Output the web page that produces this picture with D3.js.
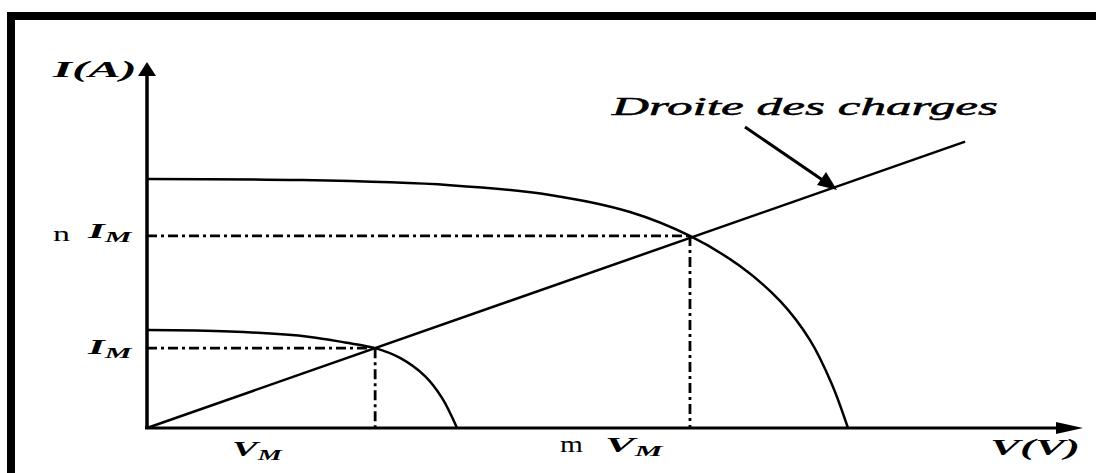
<!DOCTYPE html>
<html>
<head>
<meta charset="utf-8">
<script src="https://cdn.jsdelivr.net/npm/d3@7"></script>
<style>
  html, body { margin: 0; padding: 0; background: #fff; }
  svg { display: block; }
  .lbl { font-family: "Liberation Serif", "DejaVu Serif", serif; fill: #000; }
</style>
</head>
<body>
<svg id="chart" width="1096" height="473"></svg>
<script>
// Operating point of the small panel and the scaling factors
const vM = 2.44;          // V_M
const iM = 2.2;           // I_M
const mFactor = 2.38;     // m V_M
const nFactor = 2.405;    // n I_M

// I-V characteristic of a single panel (V, I)
const smallV = [0, 0.888, 1.743, 2.118, 2.44, 2.706, 2.973, 3.155, 3.316];
const smallI = [2.70, 2.66, 2.51, 2.355, 2.20, 1.93, 1.43, 0.83, 0];

// I-V characteristic of the full array (V, I)
const bigV = [0, 1.636, 3.241, 4.310, 5.166, 5.807, 6.342, 6.770, 7.091, 7.326, 7.497];
const bigI = [6.86, 6.83, 6.69, 6.42, 5.95, 5.29, 4.46, 3.50, 2.42, 1.20, 0];

// Load line end point
const loadEndV = 8.75;

const svg = d3.select("#chart");

const x = d3.scaleLinear().domain([0, 10]).range([147, 1082]);
const y = d3.scaleLinear().domain([0, 10]).range([428, 65]);

// Frame
svg.append("rect").attr("x", 7).attr("y", 12).attr("width", 1089).attr("height", 8).attr("fill", "#000");
svg.append("rect").attr("x", 7).attr("y", 12).attr("width", 8).attr("height", 461).attr("fill", "#000");

// Axes
svg.append("line").attr("x1", x(0)).attr("y1", y(0)).attr("x2", x(0)).attr("y2", 72)
  .attr("stroke", "#000").attr("stroke-width", 3.5);
svg.append("path")
  .attr("d", `M${x(0)},62 L${x(0) - 9},76 L${x(0) + 9},76 Z`).attr("fill", "#000");
svg.append("line").attr("x1", x(0) - 2).attr("y1", y(0)).attr("x2", 1060).attr("y2", y(0))
  .attr("stroke", "#000").attr("stroke-width", 3);
svg.append("path")
  .attr("d", `M1083,${y(0)} L1056,${y(0) - 6} L1056,${y(0) + 6} Z`).attr("fill", "#000");

const curve = d3.line().x(d => x(d[0])).y(d => y(d[1])).curve(d3.curveCatmullRom.alpha(0.5));

// Dash-dot guides
const dashDot = "10,4,3,4";
const guides = [
  [[0, iM], [vM, iM]],
  [[vM, iM], [vM, 0]],
  [[0, iM * nFactor], [vM * mFactor, iM * nFactor]],
  [[vM * mFactor, iM * nFactor], [vM * mFactor, 0]]
];
guides.forEach(g => {
  svg.append("path").attr("d", d3.line().x(d => x(d[0])).y(d => y(d[1]))(g))
    .attr("fill", "none").attr("stroke", "#000").attr("stroke-width", 2.8)
    .attr("stroke-dasharray", dashDot);
});

// I-V curves
svg.append("path").attr("d", curve(smallV.map((v, i) => [v, smallI[i]])))
  .attr("fill", "none").attr("stroke", "#000").attr("stroke-width", 2.5);
svg.append("path").attr("d", curve(bigV.map((v, i) => [v, bigI[i]])))
  .attr("fill", "none").attr("stroke", "#000").attr("stroke-width", 2.5);

// Load line through the origin and both operating points
const slope = iM / vM;
svg.append("line")
  .attr("x1", x(0)).attr("y1", y(0))
  .attr("x2", x(loadEndV)).attr("y2", y(slope * loadEndV))
  .attr("stroke", "#000").attr("stroke-width", 2.5);

// Annotation arrow
svg.append("line").attr("x1", 745).attr("y1", 127).attr("x2", 824).attr("y2", 181)
  .attr("stroke", "#000").attr("stroke-width", 3);
svg.append("path").attr("d", "M837,190 L817,185 L826,172 Z").attr("fill", "#000");

// Text label stretched horizontally to a given width.
// parts: [{t, sub}] ; sub parts are drawn smaller and lowered.
function label(px, py, parts, width, size, opts = {}) {
  const g = svg.append("g");
  const t = g.append("text").attr("class", "lbl")
    .attr("font-size", size)
    .attr("font-style", opts.italic === false ? "normal" : "italic")
    .attr("font-weight", opts.bold === false ? "normal" : "bold");
  if (opts.stroke) t.attr("stroke", "#000").attr("stroke-width", opts.stroke);
  parts.forEach(p => {
    const s = t.append("tspan").text(p.t);
    if (p.sub) s.attr("font-size", size * 0.7).attr("dy", size * 0.2);
  });
  const w = t.node().getBBox().width;
  g.attr("transform", `translate(${px},${py}) scale(${width / w},1)`);
  return g;
}

label(53, 77, [{ t: "I(A)" }], 86, 23);
label(612, 115, [{ t: "Droite des charges" }], 388, 26, { bold: false, stroke: 0.5 });

label(53, y(iM * nFactor) + 5, [{ t: "n" }], 17, 22, { italic: false, bold: false });
label(88, y(iM * nFactor) + 2, [{ t: "I" }, { t: "M", sub: true }], 47, 20);
label(88, y(iM) + 6, [{ t: "I" }, { t: "M", sub: true }], 47, 20);

label(232, 456, [{ t: "V" }, { t: "M", sub: true }], 52, 22);
label(560, 452, [{ t: "m" }], 23, 23, { italic: false, bold: false });
label(605, 452, [{ t: "V" }, { t: "M", sub: true }], 60, 22);

label(990, 455, [{ t: "V(V)" }], 90, 24);
</script>
</body>
</html>
